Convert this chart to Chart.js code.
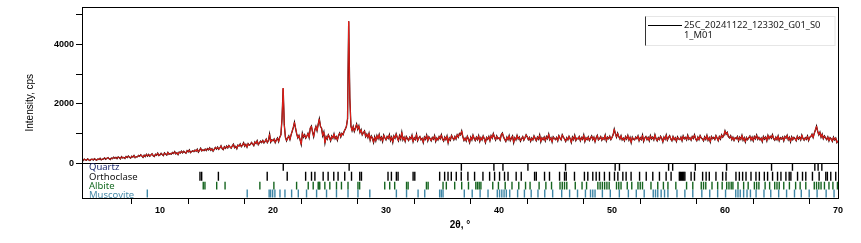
<!DOCTYPE html>
<html>
<head>
<meta charset="utf-8">
<script src="https://cdn.jsdelivr.net/npm/chart.js@4.4.1/dist/chart.umd.min.js"></script>
<style>
  html, body { margin: 0; padding: 0; background: #fff; }
</style>
</head>
<body>
<canvas id="xrd" width="861" height="243"></canvas>
<script>
// Sample name shown in the legend (wrapped on two lines like the original)
const sampleName = ['25C_20241122_123302_G01_S0', '1_M01'];

// Measured pattern: 2theta from 3.0 to 70.0 in 0.1 deg steps
const twoThetaStart = 3.0;
const twoThetaStep = 0.1;
const intensity = [
  110, 135, 98, 142, 120, 105, 150, 118, 96, 132,
  140, 112, 158, 125, 104, 146, 131, 168, 119, 138,
  148, 182, 139, 171, 195, 152, 128, 176, 160, 205,
  172, 198, 160, 214, 188, 150, 225, 181, 199, 167,
  230, 194, 246, 205, 178, 238, 212, 262, 190, 221,
  218, 265, 236, 290, 248, 205, 271, 226, 302, 244,
  296, 240, 281, 322, 258, 230, 305, 276, 341, 262,
  285, 336, 298, 262, 351, 310, 277, 368, 302, 329,
  312, 365, 330, 392, 318, 356, 298, 381, 349, 410,
  352, 405, 372, 340, 428, 386, 451, 360, 398, 420,
  395, 448, 410, 472, 380, 436, 505, 418, 455, 430,
  478, 432, 495, 456, 520, 441, 488, 412, 470, 535,
  482, 545, 470, 518, 590, 496, 462, 556, 505, 578,
  522, 601, 548, 510, 585, 640, 530, 572, 495, 612,
  585, 648, 560, 615, 690, 578, 636, 545, 662, 610,
  632, 705, 655, 598, 720, 672, 760, 628, 690, 745,
  700, 768, 690, 742, 815, 698, 770, 980, 715, 790,
  760, 820, 700, 790, 850, 730, 880, 960, 1500, 2530,
  1300, 880, 760, 850, 920, 800, 960, 1080, 1210, 1380,
  1180, 990, 860, 940, 790, 640, 1010, 880, 960, 850,
  920, 1010, 870, 1180, 1250, 1060, 900, 1120, 1240, 1100,
  1310, 1490, 1250, 1180, 930, 1050, 690, 900, 820, 960,
  880, 760, 920, 850, 990, 830, 900, 780, 940, 1020,
  890, 1010, 960, 1080, 1150, 1250, 1500, 4780, 2200, 1250,
  1100, 1240, 1080, 1190, 1320, 1150, 1260, 1040, 1130, 960,
  1030, 1090, 900, 980, 870, 1010, 780, 920, 850, 700,
  890, 760, 930, 830, 970, 800, 880, 740, 950, 860,
  790, 900, 840, 960, 770, 880, 710, 920, 850, 990,
  860, 760, 930, 820, 1040, 790, 880, 740, 900, 830,
  770, 880, 820, 940, 730, 860, 800, 970, 760, 850,
  900, 790, 840, 700, 880, 810, 950, 760, 890, 830,
  760, 870, 810, 930, 740, 850, 790, 900, 830, 960,
  820, 750, 880, 800, 920, 690, 850, 780, 940, 860,
  790, 900, 820, 960, 880, 1000, 960, 1090, 900, 770,
  850, 760, 910, 820, 700, 880, 790, 950, 840, 770,
  880, 800, 930, 740, 860, 790, 920, 830, 700, 870,
  810, 900, 760, 930, 850, 1000, 880, 790, 920, 830,
  860, 780, 960, 1020, 890, 810, 740, 880, 800, 930,
  770, 850, 920, 700, 860, 790, 940, 820, 880, 750,
  830, 900, 780, 860, 960, 890, 800, 870, 740, 850,
  790, 920, 840, 760, 880, 810, 950, 730, 860, 800,
  880, 760, 900, 830, 980, 790, 860, 720, 890, 840,
  800, 870, 760, 930, 850, 790, 960, 880, 820, 740,
  860, 790, 910, 830, 700, 880, 800, 940, 770, 850,
  820, 900, 760, 870, 810, 950, 740, 860, 800, 890,
  770, 850, 920, 800, 880, 730, 860, 940, 790, 830,
  900, 780, 860, 810, 950, 760, 880, 830, 910, 800,
  870, 960, 1150, 1000, 880, 1010, 900, 820, 930, 790,
  850, 760, 900, 820, 940, 780, 870, 700, 880, 810,
  790, 880, 830, 920, 760, 860, 800, 950, 740, 850,
  900, 800, 870, 760, 930, 820, 880, 790, 960, 830,
  760, 860, 800, 910, 840, 720, 880, 810, 950, 780,
  870, 930, 820, 760, 900, 800, 860, 740, 890, 820,
  800, 880, 760, 920, 830, 870, 790, 940, 810, 860,
  780, 900, 840, 960, 820, 760, 880, 800, 930, 850,
  820, 760, 890, 810, 940, 780, 860, 720, 900, 830,
  870, 800, 930, 850, 760, 900, 820, 960, 880, 940,
  1090, 980, 1040, 900, 860, 930, 800, 880, 770, 860,
  830, 900, 760, 880, 810, 940, 780, 860, 720, 870,
  800, 860, 920, 790, 880, 760, 900, 830, 950, 810,
  870, 790, 850, 730, 900, 820, 880, 760, 940, 830,
  910, 850, 960, 830, 780, 880, 800, 920, 760, 860,
  820, 880, 760, 900, 850, 940, 790, 870, 730, 890,
  800, 870, 830, 760, 910, 820, 880, 790, 950, 840,
  780, 860, 810, 920, 770, 880, 900, 980, 870, 1010,
  1120, 1250, 1080, 960, 1050, 880, 980, 830, 920, 860,
  800, 890, 760, 860, 820, 740, 880, 790, 850, 700,
  760
];

// Reference phase line positions (2theta)
const phaseNames = ['Quartz', 'Orthoclase', 'Albite', 'Muscovite'];
const quartzPeaks = [20.91, 26.74, 36.67, 39.55, 40.35, 42.56, 45.89, 50.28, 50.66, 55.01,
  55.37, 57.37, 60.14, 64.12, 65.97, 67.95, 68.24, 68.57];
const orthoclasePeaks = [13.54, 13.69, 15.17, 19.49, 21.26, 22.89, 23.41, 23.71, 24.44, 24.88,
  25.38, 25.76, 26.35, 26.95, 27.68, 27.83, 30.18, 30.48, 30.92, 31.07, 32.4, 32.55, 34.75,
  35.19, 35.49, 35.78, 36.22, 36.66, 37.25, 37.84, 38.58, 39.17, 39.61, 40.05, 40.49, 40.8,
  41.52, 41.97, 43.15, 43.3, 44.03, 44.47, 45.36, 45.8, 45.95, 46.68, 47.56, 47.86, 48.3,
  48.6, 48.89, 49.33, 49.78, 50.22, 50.52, 50.96, 51.25, 51.69, 52.44, 53.03, 53.61, 54.2,
  54.79, 55.23, 55.96, 56.05, 56.15, 56.25, 56.35, 56.45, 57.0, 57.3, 58.02, 58.33, 58.61,
  59.2, 59.79, 60.09, 60.97, 61.27, 61.56, 61.86, 62.3, 62.74, 63.04, 63.48, 63.77, 64.21,
  64.65, 64.95, 65.39, 65.68, 65.83, 66.42, 66.86, 67.15, 67.74, 68.33, 68.92, 69.06, 69.36,
  69.8];
const albitePeaks = [13.83, 13.98, 15.02, 15.76, 18.84, 20.08, 22.09, 23.12, 23.56, 24.0,
  24.07, 24.14, 24.59, 25.03, 25.62, 26.06, 26.64, 27.52, 27.67, 29.89, 30.33, 30.77, 31.82,
  31.96, 33.58, 33.73, 35.05, 35.34, 36.08, 36.7, 37.3, 37.95, 38.1, 38.25, 38.4, 39.45,
  39.95, 40.55, 41.15, 41.75, 42.35, 42.75, 43.55, 44.15, 44.65, 45.4, 45.6, 45.8, 46.0,
  46.75, 47.35, 47.75, 48.75, 48.95, 49.15, 49.35, 49.55, 49.75, 50.4, 50.6, 50.8, 51.35,
  51.75, 52.3, 52.5, 52.7, 53.45, 54.05, 54.55, 54.95, 55.65, 56.6, 57.15, 57.9, 58.1, 58.3,
  58.85, 59.35, 59.75, 60.15, 60.35, 60.55, 60.7, 61.15, 61.65, 62.05, 62.6, 62.8, 63.0,
  63.55, 63.95, 64.4, 64.6, 64.8, 65.2, 65.7, 66.25, 66.65, 67.15, 67.9, 68.1, 68.3, 68.5,
  68.8, 69.2, 69.55, 69.95];
const muscovitePeaks = [8.88, 17.72, 19.66, 19.79, 19.97, 20.17, 20.62, 21.06, 21.65, 22.24,
  22.97, 23.86, 24.74, 25.62, 26.64, 27.52, 28.57, 30.92, 31.82, 32.84, 33.43, 34.75, 34.9,
  35.05, 36.93, 37.63, 38.33, 39.03, 39.85, 40.05, 40.25, 40.45, 40.65, 40.95, 41.65, 42.25,
  42.85, 43.45, 44.05, 44.75, 45.55, 46.25, 46.95, 47.65, 48.1, 48.3, 48.5, 49.15, 49.85,
  50.65, 51.45, 52.15, 52.85, 53.65, 53.85, 54.05, 54.35, 54.65, 54.95, 55.75, 56.45, 57.15,
  57.95, 58.65, 59.35, 60.05, 60.95, 61.15, 61.35, 61.65, 61.95, 62.25, 62.75, 63.45, 64.05,
  64.75, 65.45, 66.15, 66.75, 67.45, 68.15, 68.95, 69.65];

// Axis ticks
const xTicks = [5, 10, 15, 20, 25, 30, 35, 40, 45, 50, 55, 60, 65, 70];
const yTicks = [0, 1000, 2000, 3000, 4000, 5000];

// ---- styling ----
const yMax = 5250;
const yMin = -1167;          // room below zero for the phase stick panel
const stickRows = [[-250, 0], [-583, -283], [-883, -617], [-1150, -883]];
const labelRows = [-140, -470, -780, -1080];
const phaseColors = ['#1c2a6e', '#111111', '#176b23', '#4a8caa'];
const stickColors = ['#000000', '#000000', '#15641f', '#3f86a6'];

const points = intensity.map((v, i) => ({ x: +(twoThetaStart + i * twoThetaStep).toFixed(1), y: v }));

function sticks(positions, row) {
  return positions.map(p => ({ x: p, y: stickRows[row] }));
}

function stickSet(positions, row) {
  return {
    type: 'bar', data: sticks(positions, row), backgroundColor: stickColors[row],
    barThickness: 1.4, inflateAmount: 0, borderWidth: 0, grouped: false, order: 2
  };
}

const tickFont = { family: 'Liberation Sans, Arial, sans-serif', size: 9, weight: 'bold' };

// Outer frame plus the line separating the pattern from the phase panel
const framePlugin = {
  id: 'frame',
  afterDatasetsDraw(chart) {
    const { ctx, chartArea: a, scales } = chart;
    ctx.save();
    ctx.strokeStyle = '#000';
    ctx.lineWidth = 1;
    ctx.strokeRect(Math.round(a.left) + 0.5, Math.round(a.top) + 0.5,
      Math.round(a.right - a.left), Math.round(a.bottom - a.top));
    const y0 = Math.round(scales.y.getPixelForValue(0)) + 0.5;
    ctx.beginPath();
    ctx.moveTo(a.left, y0);
    ctx.lineTo(a.right, y0);
    ctx.stroke();

    // phase names inside the panel
    ctx.beginPath();
    ctx.rect(a.left, a.top, a.right - a.left, a.bottom - a.top);
    ctx.clip();
    ctx.font = '9.5px "Noto Sans", sans-serif';
    ctx.textBaseline = 'middle';
    phaseNames.forEach((name, i) => {
      ctx.fillStyle = phaseColors[i];
      ctx.fillText(name, a.left + 7, scales.y.getPixelForValue(labelRows[i]));
    });
    ctx.restore();
  }
};

// Legend box in the top right corner
const legendPlugin = {
  id: 'sampleLegend',
  afterDraw(chart) {
    const { ctx, chartArea: a } = chart;
    const left = 645.5, top = 16.5, right = a.right - 3, bottom = 45.5;
    ctx.save();
    ctx.fillStyle = '#fff';
    ctx.fillRect(left, top, right - left, bottom - top);
    ctx.strokeStyle = '#e6e6e6';
    ctx.lineWidth = 1;
    ctx.strokeRect(left, top, right - left, bottom - top);
    ctx.strokeStyle = '#333';
    ctx.beginPath();
    ctx.moveTo(left, top);
    ctx.lineTo(left, bottom);
    ctx.stroke();
    ctx.strokeStyle = '#000';
    ctx.beginPath();
    ctx.moveTo(648, 25.5);
    ctx.lineTo(682, 25.5);
    ctx.stroke();
    ctx.fillStyle = '#222';
    ctx.font = '9.4px "Noto Sans", sans-serif';
    ctx.textBaseline = 'middle';
    ctx.fillText(sampleName[0], 684, 25.5);
    ctx.fillText(sampleName[1], 684, 35.5);
    ctx.restore();
  }
};

new Chart(document.getElementById('xrd'), {
  type: 'line',
  data: {
    datasets: [
      { type: 'line', data: points, borderColor: '#e8211b', borderWidth: 1, pointRadius: 0, tension: 0, order: 0 },
      { type: 'line', data: points, borderColor: '#2a0000', borderWidth: 1.35, pointRadius: 0, tension: 0, order: 1 },
      stickSet(quartzPeaks, 0),
      stickSet(orthoclasePeaks, 1),
      stickSet(albitePeaks, 2),
      stickSet(muscovitePeaks, 3)
    ]
  },
  options: {
    responsive: false,
    animation: false,
    devicePixelRatio: 1,
    layout: { padding: { top: 5, right: 23, left: 0, bottom: 0 } },
    plugins: { legend: { display: false }, tooltip: { enabled: false } },
    scales: {
      x: {
        type: 'linear',
        min: 3.1,
        max: 70,
        offset: false,
        afterBuildTicks: s => { s.ticks = xTicks.map(v => ({ value: v })); },
        afterFit: s => { s.height = 45; },
        ticks: { autoSkip: false, maxRotation: 0, padding: 1, color: '#000', font: tickFont,
          callback: v => (v % 10 === 0 ? v : '') },
        grid: { drawOnChartArea: false, tickLength: 6, color: '#000' },
        border: { color: '#000' },
        title: { display: true, text: '2θ, °', color: '#000', padding: { top: 0, bottom: 12 },
          font: { family: 'Liberation Sans, Arial, sans-serif', size: 10, weight: 'bold' } }
      },
      y: {
        min: yMin,
        max: yMax,
        afterBuildTicks: s => { s.ticks = yTicks.map(v => ({ value: v })); },
        afterFit: s => { s.width = 82; },
        ticks: { padding: 2, color: '#000', font: tickFont,
          callback: v => (v % 2000 === 0 ? v : '') },
        grid: { drawOnChartArea: false, tickLength: 6, color: '#000' },
        border: { color: '#000' },
        title: { display: true, text: 'Intensity, cps', color: '#000', padding: { top: 24, bottom: 0 },
          font: { family: 'Liberation Sans, Arial, sans-serif', size: 10 } }
      }
    }
  },
  plugins: [framePlugin, legendPlugin]
});
</script>
</body>
</html>
